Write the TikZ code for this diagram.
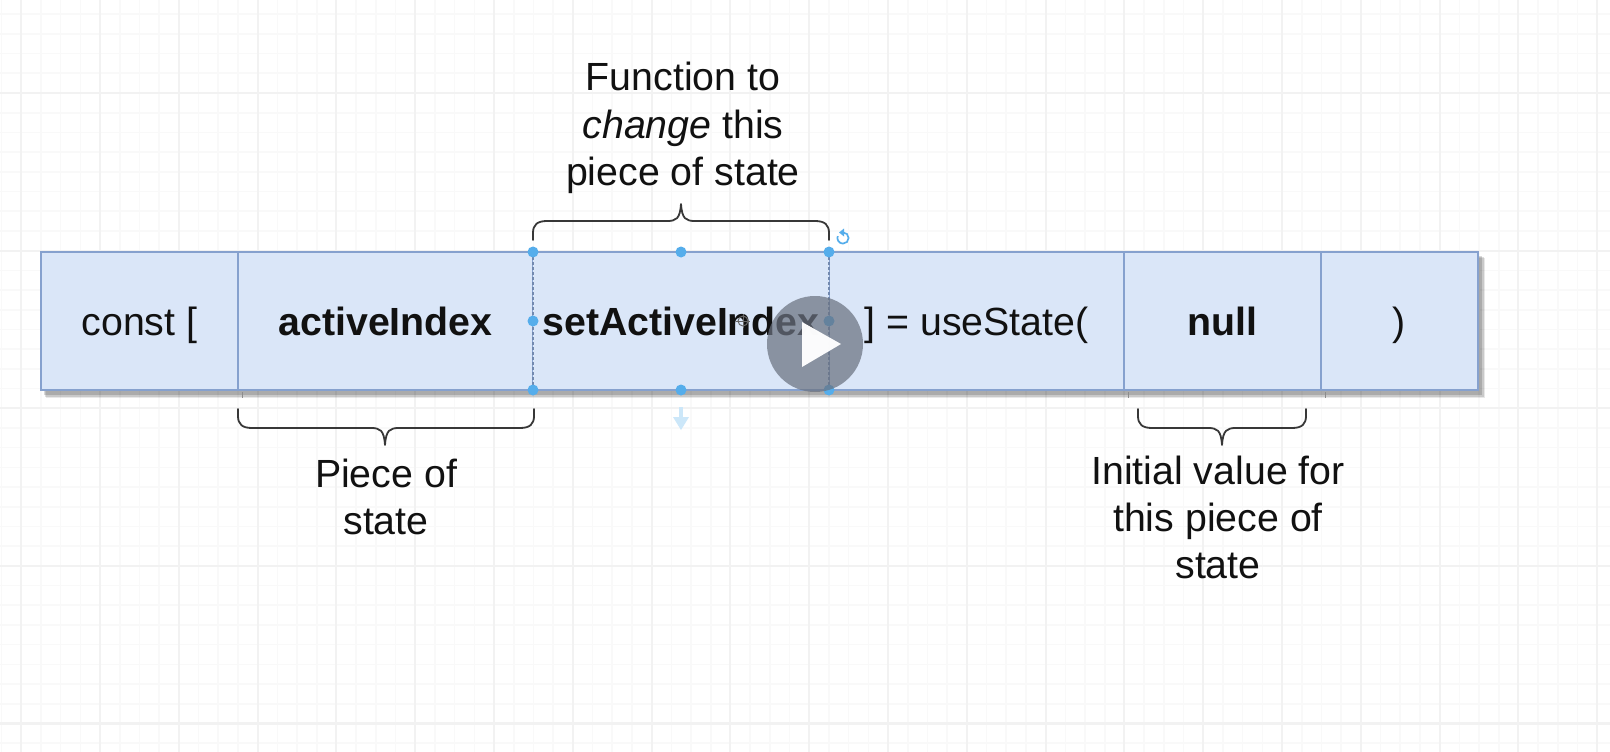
\documentclass[tikz,border=0pt]{standalone}
\usepackage{fontspec}
\setmainfont{Liberation Sans}
\usetikzlibrary{calc}
\definecolor{cellfill}{HTML}{DAE6F8}
\definecolor{celledge}{HTML}{86A1CE}
\definecolor{gridminor}{HTML}{F9F9F9}
\definecolor{gridmajor}{HTML}{F2F2F2}
\definecolor{handle}{HTML}{55ADEB}
\definecolor{inkblack}{HTML}{111111}
\definecolor{playgrey}{HTML}{6B7280}
\tikzset{
  x=1pt,y=-1pt,
  labeltext/.style={font=\fontsize{39.3}{47.2}\selectfont,text=inkblack,align=center,inner sep=0pt},
  cell/.style={draw=celledge,line width=1.8pt,fill=cellfill,inner sep=0pt,outer sep=0pt,minimum height=138pt,
    text height=29pt,text depth=0pt,
    font=\fontsize{39.3}{47.2}\selectfont,text=inkblack},
  boldcell/.style={cell,font=\fontsize{39.3}{47.2}\selectfont\bfseries},
  bracket/.style={draw=black!78,line width=1.8pt,line cap=round,line join=round},
  handledot/.style={circle,fill=handle,inner sep=0pt,minimum size=11pt},
}
\newcommand{\bracedown}[4]{% left x, right x, top y, mid x
  \draw[bracket] (#1,#3) -- (#1,#3+7) .. controls (#1,#3+15) and (#1+4,#3+19) .. (#1+14,#3+19)
    -- (#4-14,#3+19) .. controls (#4-5,#3+19) and (#4-1,#3+21) .. (#4,#3+36)
    .. controls (#4+1,#3+21) and (#4+5,#3+19) .. (#4+14,#3+19)
    -- (#2-14,#3+19) .. controls (#2-4,#3+19) and (#2,#3+15) .. (#2,#3+7) -- (#2,#3);}
\newcommand{\braceup}[4]{% left x, right x, bottom y, mid x
  \draw[bracket] (#1,#3) -- (#1,#3-7) .. controls (#1,#3-15) and (#1+4,#3-19) .. (#1+14,#3-19)
    -- (#4-14,#3-19) .. controls (#4-5,#3-19) and (#4-1,#3-21) .. (#4,#3-36)
    .. controls (#4+1,#3-21) and (#4+5,#3-19) .. (#4+14,#3-19)
    -- (#2-14,#3-19) .. controls (#2-4,#3-19) and (#2,#3-15) .. (#2,#3-7) -- (#2,#3);}
\begin{document}
\begin{tikzpicture}
\useasboundingbox (0,0) rectangle (1610,752);
\fill[white] (0,0) rectangle (1610,752);
% grid
\foreach \k in {0,...,81} {\draw[gridminor,line width=1.6pt] ({1.5+19.7*\k},0) -- ({1.5+19.7*\k},752);}
\foreach \k in {-4,...,33} {\draw[gridminor,line width=1.6pt] (0,{93+19.7*\k}) -- (1610,{93+19.7*\k});}
\foreach \k in {0,...,20} {\draw[gridmajor,line width=2pt] ({21.2+78.8*\k},0) -- ({21.2+78.8*\k},752);}
\foreach \k in {0,...,4} {\draw[gridmajor,line width=2.2pt] (0,{93+157.6*\k}) -- (1610,{93+157.6*\k});}
% soft shadow
\fill[black,opacity=.09] (46,258) rectangle (1485,398);
\fill[black,opacity=.13] (45,257) rectangle (1483.5,396.5);
\fill[black,opacity=.15] (44,256) rectangle (1482,395);
% cells
\node[cell,minimum width=197pt] (c1) at (139.5,321) {const [};
\node[boldcell,minimum width=295pt] (c2) at (385.5,321) {activeIndex};
\node[cell,minimum width=295pt] (c4) at (976.5,321) {] = useState(};
\node[boldcell,minimum width=197pt] (c5) at (1222.5,321) {null};
\node[cell,minimum width=157pt] (c6) at (1399.5,321) {)};
\node[boldcell,draw=none,minimum width=296pt] (c3) at (681,321) {setActiveIndex};
\foreach \x in {242,1128,1325} {\draw[black!45,line width=1pt] (\x,392) -- (\x,398);}
% selection frame
\draw[celledge,line width=1.8pt] (c3.north west) -- (c3.north east) (c3.south west) -- (c3.south east);
\draw[celledge!85!black,dashed,dash pattern=on 3pt off 2pt,line width=1.4pt] (c3.north west) -- (c3.south west);
\draw[celledge!85!black,dashed,dash pattern=on 3pt off 2pt,line width=1.4pt] (c3.north east) -- (c3.south east);
% braces
\braceup{533}{829}{240}{681}
\bracedown{238}{534}{409}{385}
\bracedown{1138}{1306}{409}{1222}
% labels
\node[labeltext] (l1) at (683,128) {Function to\\\textit{change} this\\piece of state};
\node[labeltext] (l2) at (386,497) {Piece of\\state};
\node[labeltext] (l3) at (1218,517.5) {Initial value for\\this piece of\\state};
% selection handles
\foreach \n/\a in {h1/c3.north west,h2/c3.north,h3/c3.north east,h4/c3.west,h5/c3.east,h6/c3.south west,h7/c3.south,h8/c3.south east}
  {\node[handledot] (\n) at (\a) {};}
% rotate icon
\draw[handle,line width=1.7pt] (843,232.4) arc (270:560:5.6);
\fill[handle] (844,228.5) -- (844,236.5) -- (839,232.5) -- cycle;
% move arrow
\draw[handle!30,line width=3.4pt] (681,407) -- (681,420);
\fill[handle!30] (673,417) -- (689,417) -- (681,430) -- cycle;
% cursor mark
\draw[black!60,line width=1pt] (743,321) circle (5);
\draw[black!60,line width=1pt] (736,321) -- (750,321) (743,314) -- (743,328);
% play button
\fill[playgrey,opacity=.72] (815,344) circle (48);
\fill[white,opacity=.97] (802,322) -- (841,344) -- (802,367) -- cycle;
\end{tikzpicture}
\end{document}
